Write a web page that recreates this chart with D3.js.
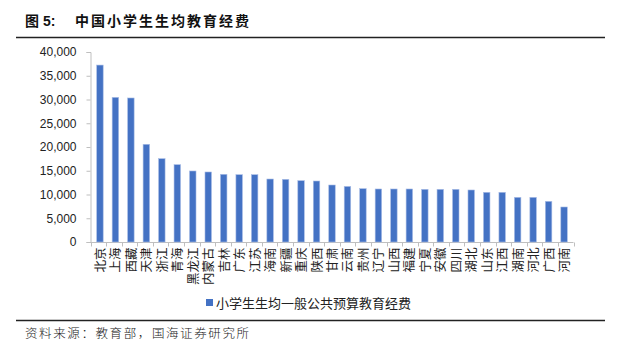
<!DOCTYPE html>
<html>
<head>
<meta charset="utf-8">
<script src="https://cdn.jsdelivr.net/npm/d3@7"></script>
<style>
  body { margin: 0; background: #fff; }
  text { font-family: "Liberation Sans", Arial, "Noto Sans CJK SC", sans-serif; }
</style>
</head>
<body>
<div id="chart"></div>
<script>
// provinces, sorted by spending
const provinces = ['北京', '上海', '西藏', '天津', '浙江', '青海', '黑龙江', '内蒙古', '吉林', '广东',
  '江苏', '海南', '新疆', '重庆', '陕西', '甘肃', '云南', '贵州', '辽宁', '山西', '福建', '宁夏',
  '安徽', '四川', '湖北', '山东', '江西', '湖南', '河北', '广西', '河南'];
const spending = [37250, 30450, 30320, 20570, 17540, 16280, 14950, 14740, 14250, 14170,
  14170, 13260, 13190, 12910, 12840, 12000, 11700, 11230, 11160, 11160, 11160, 11090,
  11090, 11090, 10950, 10460, 10460, 9400, 9400, 8560, 7370];
const yTicks = [0, 5000, 10000, 15000, 20000, 25000, 30000, 35000, 40000];
const seriesName = '小学生生均一般公共预算教育经费';

const width = 618;
const height = 353;

const svg = d3.select('#chart')
  .append('svg')
  .attr('width', width)
  .attr('height', height);

// title + rules
const title = svg.append('text')
  .attr('y', 26)
  .attr('font-size', 14)
  .attr('font-weight', 'bold')
  .attr('fill', '#111');
title.append('tspan')
  .attr('x', 25)
  .style('font-family', '"Noto Sans CJK SC", sans-serif')
  .text('图');
title.append('tspan')
  .attr('x', 43)
  .style('font-family', '"Liberation Sans", Arial, sans-serif')
  .text('5:');
title.append('tspan')
  .attr('x', 75)
  .attr('letter-spacing', 2)
  .style('font-family', '"Noto Sans CJK SC", sans-serif')
  .text('中国小学生生均教育经费');

svg.append('line')
  .attr('x1', 16).attr('x2', 605)
  .attr('y1', 37.5).attr('y2', 37.5)
  .attr('stroke', '#222').attr('stroke-width', 1.5);

svg.append('line')
  .attr('x1', 16).attr('x2', 605)
  .attr('y1', 320.5).attr('y2', 320.5)
  .attr('stroke', '#222').attr('stroke-width', 1.5);

svg.append('text')
  .attr('x', 25)
  .attr('y', 338)
  .attr('font-size', 12.5)
  .attr('letter-spacing', 1.6)
  .style('font-family', '"Noto Sans CJK SC", sans-serif')
  .attr('font-weight', 300)
  .attr('fill', '#222')
  .text('资料来源：教育部，国海证券研究所');

// scales
const x = d3.scaleBand()
  .domain(provinces)
  .range([90.5, 573.5])
  .paddingInner(0.58)
  .paddingOuter(0.4);

const y = d3.scaleLinear()
  .domain([0, 40000])
  .range([242, 52]);

// y axis
const axisY = svg.append('g')
  .attr('transform', 'translate(90.5, 0)')
  .call(d3.axisLeft(y).tickValues(yTicks).tickFormat(d3.format(',')).tickSize(4).tickPadding(10));
axisY.select('.domain').attr('stroke', '#bfbfbf');
axisY.selectAll('.tick line').attr('stroke', '#bfbfbf');
axisY.selectAll('.tick text')
  .attr('font-size', 12)
  .attr('fill', '#222')
  .style('font-family', '"Liberation Sans", Arial, sans-serif');

// x axis: ticks on band boundaries
const gx = svg.append('g').attr('transform', 'translate(0, 242.5)');
gx.append('line')
  .attr('x1', 90.5).attr('x2', 573.5)
  .attr('stroke', '#bfbfbf');
const step = (573.5 - 90.5) / provinces.length;
gx.selectAll('.xtick')
  .data(d3.range(provinces.length + 1))
  .enter()
  .append('line')
  .attr('class', 'xtick')
  .attr('x1', i => Math.round(90.5 + i * step) + 0.5)
  .attr('x2', i => Math.round(90.5 + i * step) + 0.5)
  .attr('y1', 0).attr('y2', 4)
  .attr('stroke', '#bfbfbf');

gx.selectAll('.xlabel')
  .data(provinces)
  .enter()
  .append('text')
  .attr('class', 'xlabel')
  .attr('transform', d => `translate(${x(d) + x.bandwidth() / 2 + 5}, 5) rotate(-90)`)
  .attr('text-anchor', 'end')
  .attr('font-size', 12.5)
  .attr('fill', '#222')
  .style('font-family', '"Noto Sans CJK SC", sans-serif')
  .text(d => d);

// bars
svg.selectAll('.bar')
  .data(spending)
  .enter()
  .append('rect')
  .attr('class', 'bar')
  .attr('x', (d, i) => x(provinces[i]))
  .attr('y', d => y(d))
  .attr('width', x.bandwidth())
  .attr('height', d => y(0) - y(d))
  .attr('fill', '#4472c4')
  .attr('stroke', '#a9bde6')
  .attr('stroke-width', 0.6);

// legend
const legend = svg.append('g').attr('transform', 'translate(206, 303)');
legend.append('rect')
  .attr('x', 0).attr('y', -4)
  .attr('width', 7).attr('height', 7)
  .attr('fill', '#4472c4');
legend.append('text')
  .attr('x', 10)
  .attr('y', 5)
  .attr('font-size', 13)
  .attr('fill', '#222')
  .style('font-family', '"Noto Sans CJK SC", sans-serif')
  .text(seriesName);
</script>
</body>
</html>
